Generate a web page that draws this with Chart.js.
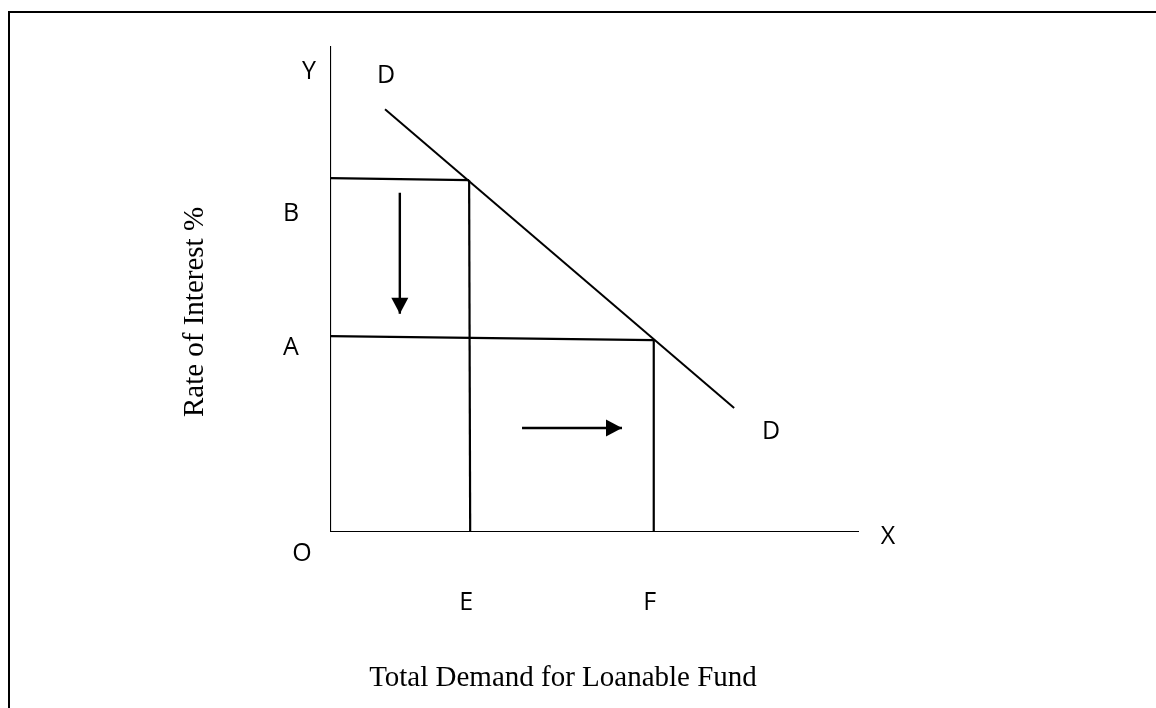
<!DOCTYPE html>
<html>
<head>
<meta charset="utf-8">
<script src="https://cdn.jsdelivr.net/npm/chart.js@4"></script>
<style>
  html, body { margin: 0; padding: 0; background: #fff; }
  canvas { display: block; }
</style>
</head>
<body>
<canvas id="loanChart" width="1156" height="708"></canvas>
<script>
// diagram values, in axis units (0..100 on both axes)
const axisX = [{ x: 0, y: 0 }, { x: 100, y: 0 }];
const axisY = [{ x: 0, y: 100 }, { x: 0, y: 0 }];
const demandCurve = [{ x: 10.4, y: 87.0 }, { x: 76.4, y: 25.5 }];
const rateB = [{ x: 0, y: 72.8 }, { x: 26.3, y: 72.4 }];
const rateA = [{ x: 0, y: 40.3 }, { x: 61.2, y: 39.5 }];
const qtyE = [{ x: 26.3, y: 72.4 }, { x: 26.5, y: 0 }];
const qtyF = [{ x: 61.2, y: 39.5 }, { x: 61.2, y: 0 }];
const arrowDown = [{ x: 13.2, y: 69.8 }, { x: 13.2, y: 44.9 }];
const arrowRight = [{ x: 36.3, y: 21.4 }, { x: 55.2, y: 21.4 }];

const pointNames = ['Y', 'D', 'B', 'A', 'O', 'E', 'F', 'X', 'D'];
const xTitle = 'Total Demand for Loanable Fund';
const yTitle = 'Rate of Interest %';

function seg(data, width, arrow) {
    return {
        data: data,
        showLine: true,
        borderColor: '#000',
        borderWidth: width,
        pointRadius: 0,
        pointHoverRadius: 0,
        fill: false,
        arrow: !!arrow
    };
}

const diagramPlugin = {
    id: 'diagram',
    beforeDraw(chart) {
        const ctx = chart.ctx;
        ctx.save();
        ctx.fillStyle = '#fff';
        ctx.fillRect(0, 0, chart.width, chart.height);
        ctx.strokeStyle = '#000';
        ctx.lineWidth = 2;
        ctx.strokeRect(9, 12, 1300, 900);
        ctx.restore();
    },
    afterDatasetsDraw(chart) {
        const ctx = chart.ctx;
        const xs = chart.scales.x;
        const ys = chart.scales.y;
        const px = v => xs.getPixelForValue(v);
        const py = v => ys.getPixelForValue(v);

        // arrow heads
        ctx.save();
        ctx.fillStyle = '#000';
        chart.data.datasets.forEach(ds => {
            if (!ds.arrow) return;
            const a = ds.data[ds.data.length - 2];
            const b = ds.data[ds.data.length - 1];
            const x1 = px(a.x), y1 = py(a.y), x2 = px(b.x), y2 = py(b.y);
            const ang = Math.atan2(y2 - y1, x2 - x1);
            const len = 16, half = 8.5;
            ctx.beginPath();
            ctx.moveTo(x2, y2);
            ctx.lineTo(x2 - len * Math.cos(ang) + half * Math.sin(ang), y2 - len * Math.sin(ang) - half * Math.cos(ang));
            ctx.lineTo(x2 - len * Math.cos(ang) - half * Math.sin(ang), y2 - len * Math.sin(ang) + half * Math.cos(ang));
            ctx.closePath();
            ctx.fill();
        });

        // point letters
        const left = px(0), bottom = py(0);
        const spots = [
            [left - 21, py(100) + 26],
            [px(demandCurve[0].x) + 1, py(demandCurve[0].y) - 33],
            [left - 39, py(rateB[0].y) + 36],
            [left - 39, py(rateA[0].y) + 12],
            [left - 28, bottom + 22],
            [px(qtyE[1].x) - 4, bottom + 71],
            [px(qtyF[1].x) - 4, bottom + 71],
            [px(100) + 29, bottom + 5],
            [px(demandCurve[1].x) + 37, py(demandCurve[1].y) + 24]
        ];
        ctx.font = '25px "Open Sans", sans-serif';
        ctx.textAlign = 'center';
        ctx.textBaseline = 'middle';
        pointNames.forEach((name, i) => {
            ctx.fillText(name, spots[i][0], spots[i][1]);
        });

        // axis titles
        ctx.font = '29px "Liberation Serif", "Times New Roman", serif';
        ctx.textBaseline = 'alphabetic';
        ctx.fillText(xTitle, 563, 686);
        ctx.translate(203, 312);
        ctx.rotate(-Math.PI / 2);
        ctx.fillText(yTitle, 0, 0);
        ctx.restore();
    }
};

const ctx = document.getElementById('loanChart').getContext('2d');
const loanChart = new Chart(ctx, {
    type: 'scatter',
    data: {
        datasets: [
            seg(axisY, 2.2),
            seg(axisX, 2.2),
            seg(demandCurve, 2),
            seg(rateB, 2.2),
            seg(rateA, 2.2),
            seg(qtyE, 2.2),
            seg(qtyF, 2.2),
            seg(arrowDown, 2.4, true),
            seg(arrowRight, 2.4, true)
        ]
    },
    options: {
        responsive: false,
        animation: false,
        layout: {
            padding: { left: 330, right: 297, top: 46, bottom: 176 }
        },
        plugins: {
            legend: { display: false },
            tooltip: { enabled: false }
        },
        scales: {
            x: { type: 'linear', min: 0, max: 100, display: false },
            y: { type: 'linear', min: 0, max: 100, display: false }
        }
    },
    plugins: [diagramPlugin]
});
</script>
</body>
</html>
